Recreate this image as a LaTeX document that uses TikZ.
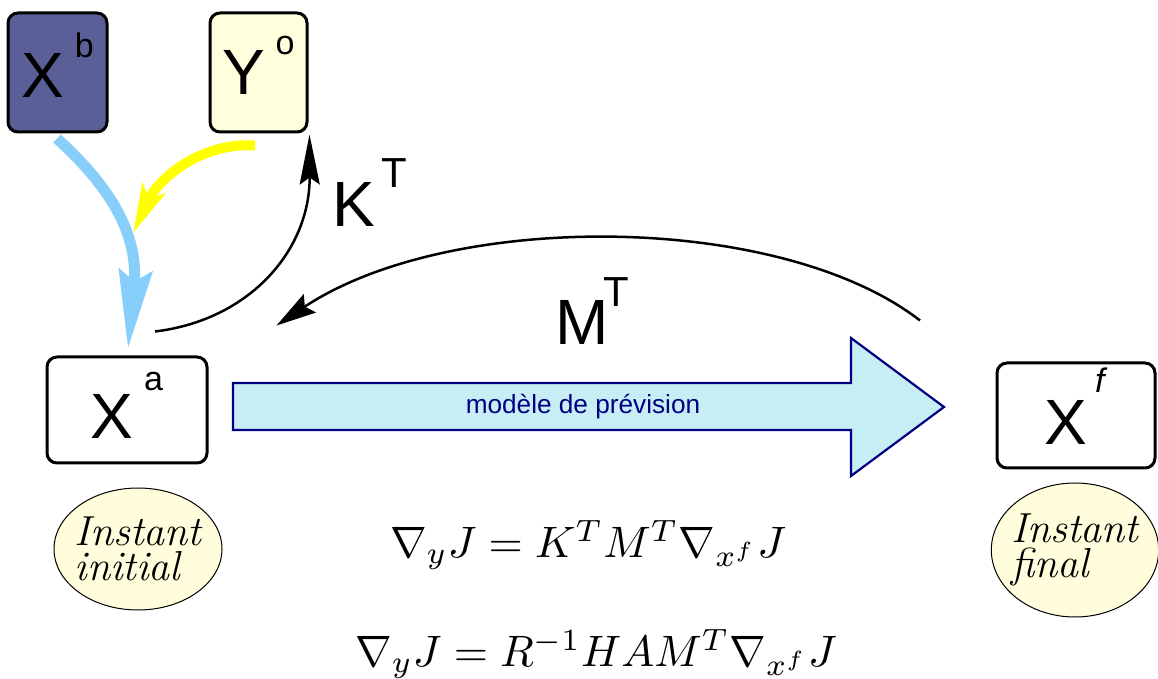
\documentclass[tikz,border=0pt]{standalone}
\usepackage{fontspec}
\usepackage{graphicx}
\newfontfamily\sansf{Liberation Sans}
\usetikzlibrary{arrows.meta,shapes.geometric,calc}
\definecolor{xbfill}{RGB}{91,95,151}
\definecolor{yofill}{RGB}{255,255,222}
\definecolor{ellfill}{RGB}{255,253,220}
\definecolor{modfill}{RGB}{200,238,245}
\definecolor{modnavy}{RGB}{0,0,128}
\definecolor{skyarr}{RGB}{135,206,250}
\definecolor{yelarr}{RGB}{255,255,0}
% #1 base letter, #2 superscript, #3 kern, #4 raise, #5 extra depth (recentring)
\newcommand{\boxsym}[5]{{\fontsize{32}{32}\selectfont #1}\kern#3\raisebox{#4}{\fontsize{17}{17}\selectfont #2}\rule[-#5]{0pt}{0pt}}
\tikzset{
  varbox/.style={draw=black, line width=1.5pt, rounded corners=5pt, inner sep=0pt, font=\sansf},
  instell/.style={ellipse, draw=black, line width=0.5pt, fill=ellfill, inner ysep=0pt, inner xsep=-2.2pt,
    align=left, font=\fontsize{21}{17.5}\selectfont\itshape},
  oplabel/.style={inner sep=0pt, anchor=base west, font=\sansf\fontsize{32}{32}\selectfont},
  eqlabel/.style={inner sep=0pt},
}
\begin{document}
\begin{tikzpicture}[x=0.5pt,y=-0.5pt]
\useasboundingbox (0,0) rectangle (1158,679);

% boxes
\node[varbox, fill=xbfill, minimum width=49.5pt, minimum height=59.5pt] (xb) at (57.5,72.5) {\boxsym{X}{b}{5.4pt}{20pt}{7.5pt}};
\node[varbox, fill=yofill, minimum width=48.5pt, minimum height=59.5pt] (yo) at (258.5,72.5) {\boxsym{Y}{o}{5.3pt}{20pt}{7.5pt}};
\node[varbox, fill=white, minimum width=80pt, minimum height=53pt] (xa) at (127,410) {\boxsym{X}{a}{5.3pt}{24pt}{5pt}};
\node[varbox, fill=white, minimum width=79pt, minimum height=52.5pt] (xf) at (1076,415.5) {\boxsym{X}{\textit{f}}{4pt}{26pt}{9pt}};

% ellipses
\node[instell, minimum width=84pt, minimum height=61pt] (ini) at (138,549) {Instant\\initial};
\node[instell, minimum width=83pt, minimum height=67pt] (fin) at (1075,550) {Instant\\final};

% forecast model arrow
\draw[draw=modnavy, line width=1.1pt, fill=modfill, line join=miter]
  (233,383) -- (851,383) -- (851,338) -- (944,407) -- (851,476) -- (851,430) -- (233,430) -- cycle;
\node[inner sep=0pt, text=modnavy, font=\sansf\fontsize{13.1}{15}\selectfont] (model) at (583,407) {modèle de prévision};

% operator labels
\node[oplabel] (kt) at (332,227) {K\kern3pt\raisebox{19.5pt}{\fontsize{21}{21}\selectfont T}};
\node[oplabel] (mt) at (555,345) {M\kern-2.5pt\raisebox{19pt}{\fontsize{21}{21}\selectfont T}};

% equations
\node[eqlabel] (eq1) at (588,545) {\scalebox{2.2}{$\nabla_y J = K^T M^T \nabla_{x^f} J$}};
\node[eqlabel] (eq2) at (596,654) {\scalebox{2.2}{$\nabla_y J = R^{-1} H A M^T \nabla_{x^f} J$}};

% connectors
\coordinate (ymeet) at (133,233);
\draw[line width=5.5pt, draw=skyarr, -{Stealth[length=39pt, width=16.5pt, inset=5.5pt, fill=skyarr]}]
  ($(xb.south)+(-0.5,5)$) .. controls (97,175) and (140,225) .. ($(xa.north)+(1,-7)$);
\draw[line width=5pt, draw=yelarr, -{Stealth[length=24pt, width=12pt, inset=5pt, fill=yelarr]}]
  ($(yo.south)+(-3.5,12)$) .. controls (205,142) and (160,175) .. (ymeet);
\draw[line width=1.25pt, -{Stealth[length=25pt, width=10pt, inset=3.5pt]}]
  ($(xa.north)+(28,-24)$) .. controls (250,320) and (310,250) .. ($(yo.south east)+(1,1)$);
\draw[line width=1.25pt, -{Stealth[length=20pt, width=11pt, inset=3pt]}]
  ($(xf.north)+(-156,-41)$) .. controls (780,212) and (450,210) .. ($(xa.north east)+(68,-30)$);
\end{tikzpicture}
\end{document}
